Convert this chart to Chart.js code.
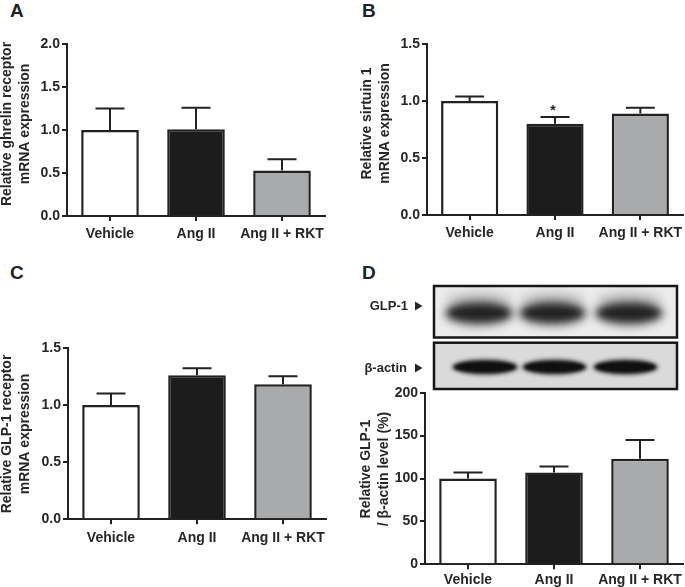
<!DOCTYPE html>
<html>
<head>
<meta charset="utf-8">
<script src="https://cdn.jsdelivr.net/npm/chart.js@4.4.0/dist/chart.umd.min.js"></script>
<style>
  body { margin: 0; width: 685px; height: 587px; overflow: hidden; background: #fff; position: relative; }
  canvas { position: absolute; }
  .letter { position: absolute; font: bold 19px "Liberation Sans", Arial, sans-serif; line-height: 19px; color: #222; }
</style>
</head>
<body>
<div class="letter" style="left:10px;top:1px">A</div>
<div class="letter" style="left:362px;top:1px">B</div>
<div class="letter" style="left:10px;top:263px">C</div>
<div class="letter" style="left:362px;top:263px">D</div>

<canvas id="chartA" width="340" height="280" style="left:0;top:0"></canvas>
<canvas id="chartB" width="360" height="280" style="left:340px;top:0"></canvas>
<canvas id="chartC" width="340" height="307" style="left:0;top:280px"></canvas>
<canvas id="chartD" width="360" height="307" style="left:340px;top:280px"></canvas>
<canvas id="blot" width="335" height="115" style="left:350px;top:280px"></canvas>

<script>
// groups
const groups = ["Vehicle", "Ang II", "Ang II + RKT"];
const barFill = ["#ffffff", "#1c1c1c", "#a9aaac"];

// A - ghrelin receptor mRNA
const ghrelinMean = [1.0, 1.01, 0.53];
const ghrelinSem = [0.25, 0.25, 0.13];
const ticksA = [0, 0.5, 1.0, 1.5, 2.0];

// B - sirtuin 1 mRNA
const sirtuinMean = [1.0, 0.80, 0.89];
const sirtuinSem = [0.04, 0.06, 0.05];
const sirtuinSig = ["", "*", ""];
const ticksB = [0, 0.5, 1.0, 1.5];

// C - GLP-1 receptor mRNA
const glp1rMean = [1.0, 1.26, 1.18];
const glp1rSem = [0.10, 0.06, 0.07];
const ticksC = [0, 0.5, 1.0, 1.5];

// D - GLP-1 / beta-actin protein
const glp1Mean = [100, 107, 123];
const glp1Sem = [7, 7, 22];
const ticksD = [0, 50, 100, 150, 200];

const ink = "#222";
const textInk = "#262626";
const FONT = '"Liberation Sans", Arial, sans-serif';
Chart.defaults.font.family = FONT;

// error bars (upper half only) + significance marks
const errorBars = {
  id: "errorBars",
  afterDatasetsDraw(chart) {
    const ctx = chart.ctx;
    const y = chart.scales.y;
    const ds = chart.data.datasets[0];
    const meta = chart.getDatasetMeta(0);
    ctx.save();
    ctx.strokeStyle = ink;
    ctx.lineWidth = 2;
    meta.data.forEach((bar, i) => {
      const base = y.getPixelForValue(ds.data[i]);
      const top = y.getPixelForValue(ds.data[i] + ds.sem[i]);
      ctx.beginPath();
      ctx.moveTo(bar.x, base);
      ctx.lineTo(bar.x, top);
      ctx.moveTo(bar.x - 14.5, top);
      ctx.lineTo(bar.x + 14.5, top);
      ctx.stroke();
      if (ds.sig && ds.sig[i]) {
        ctx.fillStyle = textInk;
        ctx.font = "bold 14px " + FONT;
        ctx.textAlign = "center";
        ctx.textBaseline = "alphabetic";
        ctx.fillText(ds.sig[i], bar.x - 2, top - 2);
      }
    });
    ctx.restore();
  }
};

// two-line rotated y title
const sideTitle = {
  id: "sideTitle",
  afterDraw(chart, args, opts) {
    const ctx = chart.ctx;
    ctx.save();
    ctx.translate(opts.x, opts.cy);
    ctx.rotate(-Math.PI / 2);
    ctx.font = "bold 14px " + FONT;
    ctx.fillStyle = textInk;
    ctx.textAlign = "center";
    ctx.textBaseline = "middle";
    opts.lines.forEach((t, i) => ctx.fillText(t, 0, i * 18));
    ctx.restore();
  }
};

const makePanel = (id, o) => {
  return new Chart(document.getElementById(id), {
    type: "bar",
    data: {
      labels: groups,
      datasets: [
        {
          data: o.mean,
          sem: o.sem,
          sig: o.sig,
          backgroundColor: barFill,
          borderColor: ink,
          borderWidth: 2.5,
          barPercentage: 0.67,
          categoryPercentage: 1,
        },
      ],
    },
    options: {
      responsive: false,
      animation: false,
      layout: { padding: { left: 0, top: o.top, right: o.right, bottom: 0 } },
      plugins: {
        legend: { display: false },
        tooltip: { enabled: false },
        sideTitle: { lines: o.title, x: o.titleX, cy: o.titleY },
      },
      scales: {
        x: {
          grid: { offset: false, drawOnChartArea: false, tickLength: 5, color: ink, lineWidth: 2 },
          border: { color: ink, width: 2 },
          ticks: { color: textInk, font: { size: 14, weight: "bold" }, padding: o.labelPad, maxRotation: 0, autoSkip: false },
          afterFit: (s) => { s.height = o.xHeight; },
        },
        y: {
          min: 0,
          max: o.ticks[o.ticks.length - 1],
          grid: { drawOnChartArea: false, tickLength: 5, color: ink, lineWidth: 2 },
          border: { color: ink, width: 2 },
          ticks: {
            color: textInk,
            font: { size: 14, weight: "bold" },
            padding: 2,
            callback: (v) => v.toFixed(o.digits),
          },
          afterBuildTicks: (s) => { s.ticks = o.ticks.map((v) => ({ value: v })); },
          afterFit: (s) => { s.width = o.yWidth; },
        },
      },
    },
    plugins: [errorBars, sideTitle],
  });
};

makePanel("chartA", {
  mean: ghrelinMean, sem: ghrelinSem, ticks: ticksA, digits: 1,
  top: 44, right: 15, yWidth: 67, xHeight: 64, labelPad: 5,
  title: ["Relative ghrelin receptor", "mRNA expression"], titleX: 7.5, titleY: 124,
});

makePanel("chartB", {
  mean: sirtuinMean, sem: sirtuinSem, sig: sirtuinSig, ticks: ticksB, digits: 1,
  top: 44, right: 17, yWidth: 87, xHeight: 65, labelPad: 5,
  title: ["Relative sirtuin 1", "mRNA expression"], titleX: 27, titleY: 123.5,
});

makePanel("chartC", {
  mean: glp1rMean, sem: glp1rSem, ticks: ticksC, digits: 1,
  top: 67.7, right: 14, yWidth: 68, xHeight: 67.7, labelPad: 5,
  title: ["Relative GLP-1 receptor", "mRNA expression"], titleX: 7, titleY: 154,
});

makePanel("chartD", {
  mean: glp1Mean, sem: glp1Sem, ticks: ticksD, digits: 0,
  top: 112.7, right: 17, yWidth: 85, xHeight: 22.7, labelPad: 2,
  title: ["Relative GLP-1", "/ \u03b2-actin level (%)"], titleX: 26, titleY: 189,
});

// western blot strips (picture, not data)
const drawBlot = () => {
  const ctx = document.getElementById("blot").getContext("2d");

  const arrow = (y) => {
    ctx.beginPath();
    ctx.moveTo(65, y - 4.5);
    ctx.lineTo(65, y + 4.5);
    ctx.lineTo(72.5, y);
    ctx.closePath();
    ctx.fill();
  };
  ctx.fillStyle = textInk;
  ctx.font = "bold 13px " + FONT;
  ctx.textAlign = "right";
  ctx.textBaseline = "middle";
  ctx.fillText("GLP-1", 58, 26);
  ctx.fillText("\u03b2-actin", 57, 88);
  arrow(26);
  arrow(88);

  const strip = (x, y, w, h, bg, bands) => {
    ctx.save();
    ctx.fillStyle = bg;
    ctx.fillRect(x, y, w, h);
    ctx.beginPath();
    ctx.rect(x, y, w, h);
    ctx.clip();
    bands();
    ctx.restore();
    ctx.strokeStyle = "#161616";
    ctx.lineWidth = 2.5;
    ctx.strokeRect(x, y, w, h);
  };

  const blob = (x0, x1, yc, h, color, blur) => {
    ctx.save();
    ctx.filter = "blur(" + blur + "px)";
    ctx.fillStyle = color;
    ctx.beginPath();
    ctx.ellipse((x0 + x1) / 2, yc, (x1 - x0) / 2, h / 2, 0, 0, Math.PI * 2);
    ctx.fill();
    ctx.restore();
  };

  strip(84, 6, 243, 51.5, "#ececec", () => {
    [[96, 162], [170, 235], [246, 312]].forEach(([a, b]) => {
      blob(a, b, 19, 16, "rgba(0,0,0,0.13)", 5);
      blob(a - 2, b + 2, 33, 26, "rgba(40,40,40,0.6)", 5);
      blob(a + 2, b - 2, 33, 16, "rgba(30,30,30,0.95)", 3.5);
    });
  });

  strip(84, 62.7, 243, 46.3, "#dadada", () => {
    [[102, 168], [172, 237], [243, 308]].forEach(([a, b]) => {
      blob(a, b, 87, 15, "rgba(20,20,20,0.9)", 2);
      blob(a + 3, b - 3, 87, 10, "#0f0f0f", 1.5);
    });
  });
};
drawBlot();
</script>
</body>
</html>
